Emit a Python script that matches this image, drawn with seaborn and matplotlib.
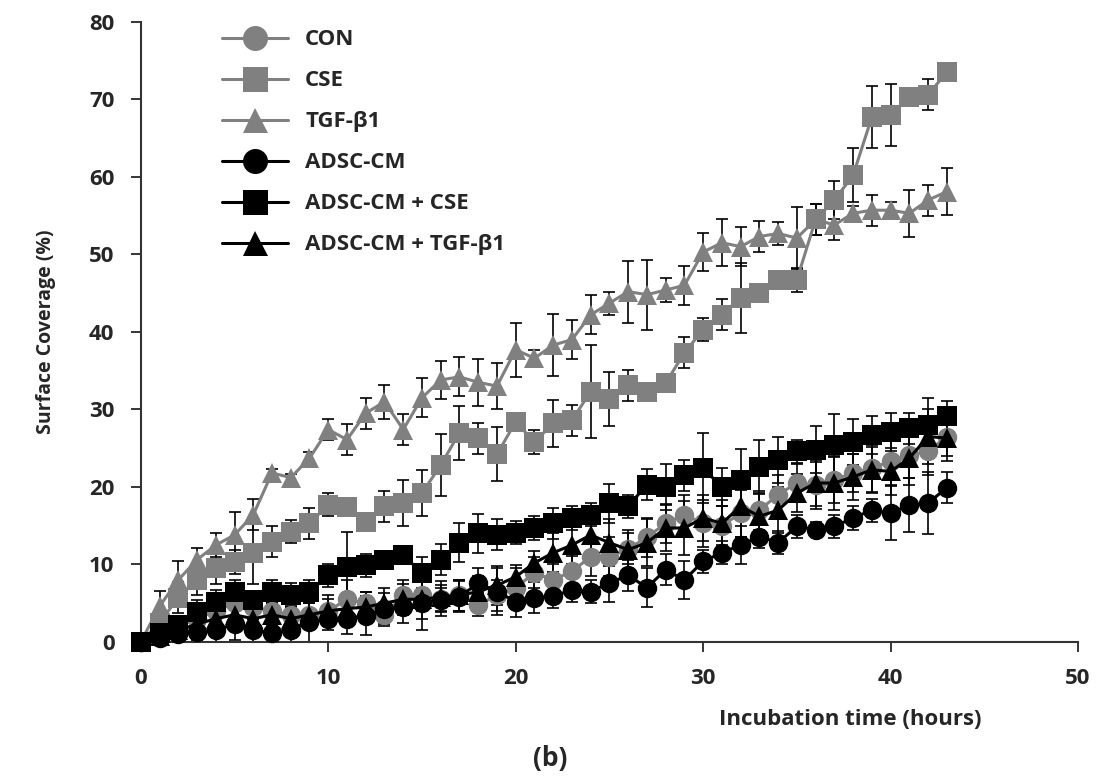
import matplotlib
matplotlib.use("Agg")
import matplotlib.pyplot as plt
import seaborn as sns
import pandas as pd

hours = list(range(44))

groups = ["CON", "CSE", "TGF-β1", "ADSC-CM", "ADSC-CM + CSE", "ADSC-CM + TGF-β1"]

con = [0, 1, 2, 3, 4, 5, 4.5, 4, 3.5, 3.5, 4, 5.5, 5, 3.5, 6, 6, 5.5, 6, 4.8, 6,
       7, 8.9, 8, 9.1, 11, 11, 12, 13.5, 15.3, 16.4, 15.3, 15, 16.6, 17, 19, 20.5,
       20.2, 20.9, 21.8, 22.4, 23.3, 24.1, 24.6, 26.5]
cse = [0, 2.5, 5.7, 8, 9.5, 10.3, 11.5, 12.9, 14.2, 15.3, 17.7, 17.4, 15.5, 17.5,
       17.9, 19.2, 22.8, 27, 26.3, 24.2, 28.4, 25.8, 28.2, 28.6, 32.3, 31.3, 33.1,
       32.3, 33.4, 37.3, 40.3, 42.2, 44.4, 45, 46.7, 46.7, 54.5, 57, 60.2, 67.7,
       68, 70.3, 70.6, 73.5]
tgf = [0, 4.6, 8, 10.6, 12.5, 13.8, 16.4, 21.8, 21.2, 23.7, 27.4, 26.1, 29.5, 31,
       27.4, 31.5, 33.8, 34.2, 33.5, 33, 37.7, 36.6, 38.3, 39, 42.2, 43.7, 45.2,
       44.8, 45.4, 46, 50.3, 51.5, 51, 52.3, 52.7, 52.1, 54.5, 53.8, 55.3, 55.7,
       55.7, 55.3, 57, 58.1]
adsc = [0, 0.5, 1, 1.3, 1.5, 2.3, 1.5, 1.2, 1.6, 2.6, 3, 3, 3.4, 4.3, 4.5, 5, 5.4,
        5.8, 7.6, 6.5, 5.2, 5.7, 5.9, 6.7, 6.5, 7.6, 8.6, 7, 9.3, 8, 10.4, 11.5,
        12.5, 13.6, 12.8, 14.9, 14.5, 14.9, 16, 17, 16.6, 17.7, 17.9, 19.9]
adsc_cse = [0, 1.1, 2.2, 3.9, 5.2, 6.5, 5.4, 6.5, 6.1, 6.5, 8.6, 9.7, 9.9, 10.6,
            11.2, 8.9, 10.6, 12.8, 14, 13.8, 14.1, 14.7, 15.3, 16, 16.4, 17.9, 17.5,
            20.3, 20, 21.5, 22.4, 20, 20.9, 22.6, 23.5, 24.6, 24.8, 25.4, 25.8,
            26.7, 27.1, 27.6, 28, 29.1]
adsc_tgf = [0, 0.8, 1.5, 2.3, 3, 3.5, 3, 3.5, 3, 3.5, 4, 4.3, 4.5, 5, 5.5, 5.5,
            5.8, 6, 6.5, 7.3, 8.4, 10.2, 11.5, 12.5, 13.8, 12.8, 11.9, 12.8, 14.7,
            14.7, 16, 15.3, 17.5, 16.2, 17, 19.2, 20.5, 20.5, 21.3, 22.2, 22, 23.7,
            26.5, 26.3]

con_err = [0, 0.5, 1, 1.2, 1.5, 2, 1.5, 1.5, 1, 1.5, 2, 2.5, 1.5, 1.5, 2, 2, 1.5,
           2, 1.5, 2, 2.5, 2, 2, 2, 2.5, 2.5, 2, 2.5, 2.5, 2.5, 3, 2.5, 3, 2.5, 2.5,
           2.5, 3, 3, 2.5, 3, 3, 3, 3, 2.5]
cse_err = [0, 1, 2, 2, 2, 1.5, 4, 2, 1.5, 2, 1.5, 0.8, 0.5, 2, 3, 3, 4, 3.5, 2,
           3.5, 1, 1.5, 3, 2, 6, 3.5, 2, 0.8, 1, 2, 1.5, 2, 4.5, 0.5, 0.5, 1.5, 2,
           2.5, 3.5, 4, 4, 1, 2, 0.5]
tgf_err = [0, 2, 2.5, 1.5, 1.5, 3, 2, 0.5, 0.5, 0.8, 1.3, 2, 2, 2.2, 2, 2.5, 2.5,
           2.5, 3, 3, 3.5, 1, 4, 2.5, 2.5, 1.5, 4, 4.5, 1.5, 2.5, 2.5, 3, 2.5, 2,
           1.5, 4, 2, 2, 1, 2, 1, 3, 2, 3]
adsc_err = [0, 0.5, 1, 1, 1.5, 2, 1.5, 1.5, 2, 3.5, 1.5, 2, 2.5, 2, 2, 3.5, 2, 2,
            2, 3, 2, 2, 1.5, 1.5, 1.5, 2.5, 2, 2.5, 2, 2.5, 1.5, 1.5, 2.5, 1.5,
            1.5, 1.5, 1, 1.5, 1.5, 1.5, 3.5, 3.5, 4, 2]
adsc_cse_err = [0, 0.5, 1, 1.5, 1.5, 1.5, 1, 1.5, 1.5, 1.5, 1.5, 4.5, 1.5, 1, 1,
                2, 2, 2.5, 2.5, 2, 1.5, 1.5, 2, 1.5, 1.5, 2.5, 1.5, 2, 3, 2, 4.5,
                2.5, 4, 3.5, 3, 1.5, 3, 4, 3, 2.5, 2.5, 2, 3.5, 2]
adsc_tgf_err = [0, 0.5, 1, 1, 1, 2, 1.5, 1.5, 1.5, 1.5, 1.5, 2, 2, 2, 2, 2.5, 2,
                2, 2, 2.5, 1.5, 1.5, 2.5, 2.5, 2.5, 3, 2.5, 3, 3, 3.5, 3, 3, 4, 3,
                3, 2.5, 3, 3.5, 3, 3, 3, 3.5, 3.5, 3]

series = [con, cse, tgf, adsc, adsc_cse, adsc_tgf]
errors = [con_err, cse_err, tgf_err, adsc_err, adsc_cse_err, adsc_tgf_err]

rows = []
for g, vals, errs in zip(groups, series, errors):
    for h, v, e in zip(hours, vals, errs):
        rows.append({"hour": h, "coverage": v, "err": e, "group": g})
df = pd.DataFrame(rows)

sns.set_theme(style="ticks")
plt.rcParams["font.family"] = ["Open Sans", "DejaVu Sans"]

gray = "#808080"
palette = {"CON": gray, "CSE": gray, "TGF-β1": gray,
           "ADSC-CM": "black", "ADSC-CM + CSE": "black", "ADSC-CM + TGF-β1": "black"}
markers = {"CON": "o", "CSE": "s", "TGF-β1": "^",
           "ADSC-CM": "o", "ADSC-CM + CSE": "s", "ADSC-CM + TGF-β1": "^"}

fig = plt.figure(figsize=(11, 7.8), dpi=100)
ax = fig.add_axes([0.128, 0.177, 0.852, 0.795])

# error bars first so the markers sit on top
for g in groups:
    sub = df[df["group"] == g]
    ax.errorbar(sub["hour"], sub["coverage"], yerr=sub["err"], fmt="none",
                ecolor="black", elinewidth=1.2, capsize=4, capthick=1.2, zorder=2)

sns.lineplot(data=df, x="hour", y="coverage", hue="group", style="group",
             hue_order=groups, style_order=groups, palette=palette,
             markers=markers, dashes=False, markersize=14, markeredgewidth=0,
             linewidth=2.2, ax=ax, zorder=3, clip_on=False)

ax.set_xlim(0, 50)
ax.set_ylim(0, 80)
ax.set_xticks(range(0, 51, 10))
ax.set_yticks(range(0, 81, 10))
ax.spines["top"].set_visible(False)
ax.spines["right"].set_visible(False)
for s in ["left", "bottom"]:
    ax.spines[s].set_color("#333333")
    ax.spines[s].set_linewidth(1.5)
ax.tick_params(axis="both", length=7, width=1.3, labelsize=16, pad=12)
for lab in ax.get_xticklabels() + ax.get_yticklabels():
    lab.set_fontweight("bold")

ax.set_xlabel("")
ax.set_ylabel("Surface Coverage (%)", fontsize=14, fontweight="bold", labelpad=24)
fig.text(0.773, 0.077, "Incubation time (hours)", ha="center", va="center",
         fontsize=16, fontweight="bold")
fig.text(0.5, 0.028, "(b)", ha="center", va="center", fontsize=19, fontweight="bold")

handles, labels = ax.get_legend_handles_labels()
for h in handles:
    h.set_markersize(18)
leg = ax.legend(handles, labels, loc="upper left", bbox_to_anchor=(0.065, 1.02),
                frameon=False, fontsize=16, handlelength=3.0, labelspacing=0.9,
                handletextpad=0.75)
for t in leg.get_texts():
    t.set_fontweight("bold")

fig.savefig("out.png", dpi=100)
